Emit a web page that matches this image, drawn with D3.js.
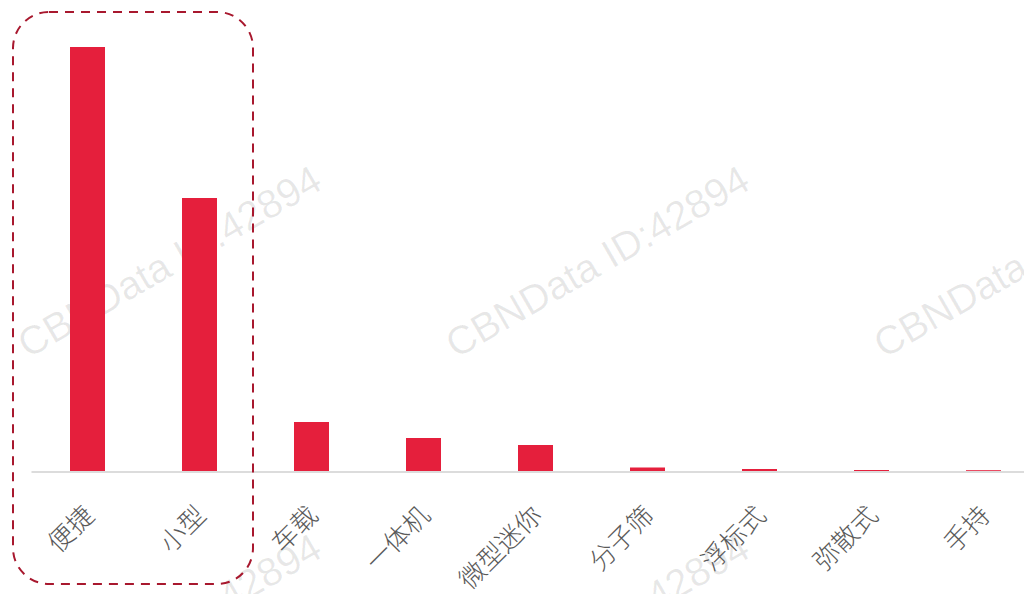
<!DOCTYPE html>
<meta charset="utf-8">
<title>便捷 vs 小型</title>
<style>
body {
  margin: 0;
  background-color: #fff;
  font-family: 'Noto Sans CJK SC', sans-serif;
}
svg { display: block; }
.bar { fill: #e51f3c; }
.label { fill: #5a5a5a; font-size: 26px; font-weight: 300; }
.wm { fill: #000; fill-opacity: 0.09; font-family: 'Liberation Sans', Arial, sans-serif; font-size: 40px; }
</style>
<body>
<script src="https://d3js.org/d3.v7.min.js"></script>
<script>
// categories and values
var categories = ["便捷", "小型", "车载", "一体机", "微型迷你", "分子筛", "浮标式", "弥散式", "手持"];
var values = [424, 273, 49, 33, 26, 3.5, 2, 1, 0.8];
var watermark = "CBNData ID:42894";

var width = 1024,
    height = 594;

var svg = d3.select("body").append("svg")
    .attr("width", width)
    .attr("height", height);

// x band scale, one band = 112px
var x = d3.scaleBand()
    .domain(categories)
    .range([31.5, 1039.5])
    .paddingInner(0.6875)
    .paddingOuter(0.34375);

var y = d3.scaleLinear()
    .domain([0, 424])
    .range([471, 47]);

// watermark layer
var gWm = svg.append("g");
[359, 727].forEach(function(wy) {
  [28, 456, 884].forEach(function(wx) {
    gWm.append("text")
      .attr("class", "wm")
      .attr("transform", "translate(" + wx + "," + wy + ") rotate(-30)")
      .text(watermark);
  });
});

// axis line
svg.append("line")
    .attr("x1", 31.5)
    .attr("x2", 1039.5)
    .attr("y1", 472)
    .attr("y2", 472)
    .attr("stroke", "#dcdcdc")
    .attr("stroke-width", 2);

// bars
svg.selectAll("rect.bar")
    .data(categories)
    .enter().append("rect")
    .attr("class", "bar")
    .attr("x", function(d) { return x(d); })
    .attr("width", x.bandwidth())
    .attr("y", function(d, i) { return y(values[i]); })
    .attr("height", function(d, i) { return y(0) - y(values[i]); });

// rotated category labels
svg.selectAll("text.label")
    .data(categories)
    .enter().append("text")
    .attr("class", "label")
    .attr("text-anchor", "end")
    .attr("dominant-baseline", "central")
    .attr("transform", function(d) {
      return "translate(" + (x(d) + x.bandwidth() / 2) + ",509) rotate(-45)";
    })
    .text(function(d) { return d; });

// dashed highlight box around the first two categories
svg.append("rect")
    .attr("x", 13)
    .attr("y", 12)
    .attr("width", 240)
    .attr("height", 572)
    .attr("rx", 36)
    .attr("ry", 36)
    .attr("fill", "none")
    .attr("stroke", "#a8182e")
    .attr("stroke-width", 2)
    .attr("stroke-dasharray", "9,7");
</script>
</body>
